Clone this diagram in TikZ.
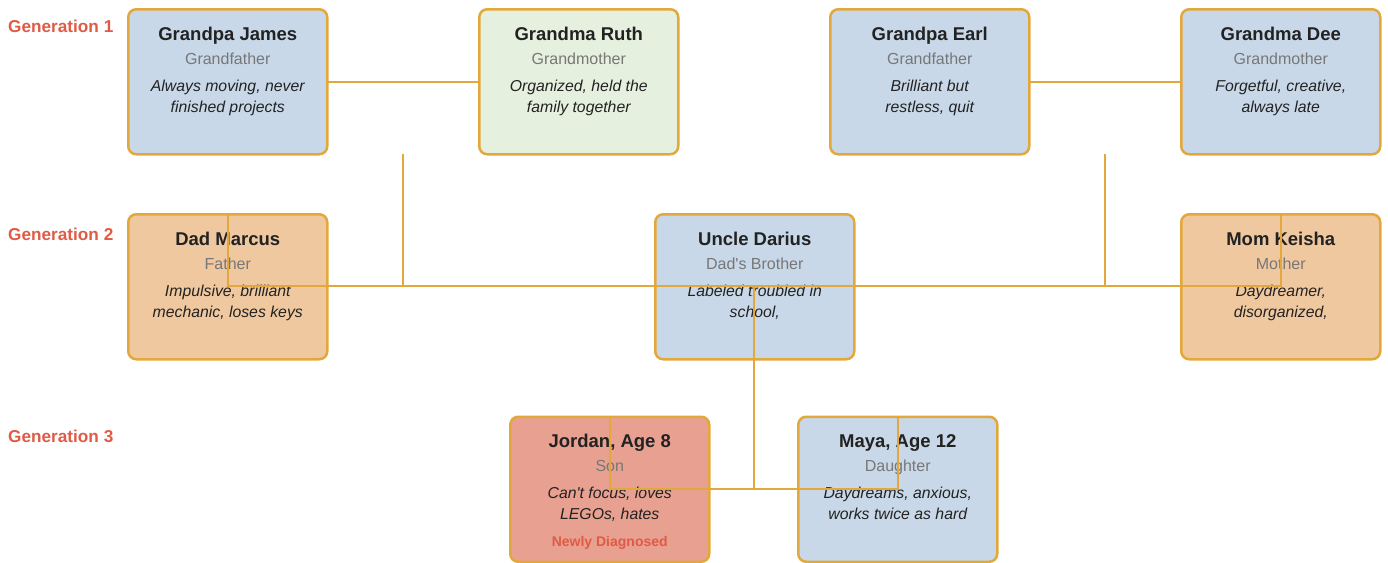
\documentclass[tikz,border=0pt]{standalone}
\usepackage{fontspec}
\setmainfont{Liberation Sans}
\usetikzlibrary{calc}
\definecolor{bord}{HTML}{E3A83C}
\definecolor{fblue}{HTML}{C8D8E8}
\definecolor{fgreen}{HTML}{E6F0DE}
\definecolor{forange}{HTML}{F0C8A0}
\definecolor{fred}{HTML}{E8A090}
\definecolor{tdark}{HTML}{222222}
\definecolor{tgray}{HTML}{777777}
\definecolor{gred}{HTML}{E05A45}
\tikzset{
  box/.style={draw=bord, line width=2.5pt, rounded corners=8pt, minimum width=199pt, minimum height=145pt, anchor=north west, inner sep=0pt, outer sep=0pt},
  conn/.style={draw=bord, line width=2pt},
  ttl/.style={anchor=base, inner sep=0pt, text=tdark, font=\fontsize{18.5}{20}\selectfont\bfseries},
  role/.style={anchor=base, inner sep=0pt, text=tgray, font=\fontsize{16}{18}\selectfont},
  desc/.style={anchor=base, inner sep=0pt, text=tdark, font=\fontsize{15.8}{18}\selectfont\itshape},
  genlbl/.style={anchor=base west, inner sep=0pt, text=gred, font=\fontsize{17.2}{19}\selectfont\bfseries},
  diag/.style={anchor=base, inner sep=0pt, text=gred, font=\fontsize{14}{16}\selectfont\bfseries}
}
\newcommand\personbox[8]{%
  \node[box, fill=#4] (#1) at ($(#2,#3)+(1.25,1.25)$) {};
  \node[ttl] (#1-t) at ($(#1.north)+(0,30.75)$) {#5};
  \node[role] (#1-r) at ($(#1.north)+(0,54.75)$) {#6};
  \node[desc] (#1-a) at ($(#1.north)+(0,81.75)$) {#7};
  \node[desc] (#1-b) at ($(#1.north)+(0,102.75)$) {#8};
}
\begin{document}
\begin{tikzpicture}[x=1pt,y=-1pt]
\useasboundingbox (0,0) rectangle (1388,562);
\node[genlbl] (g1) at (8,32) {Generation 1};
\node[genlbl] (g2) at (8,240) {Generation 2};
\node[genlbl] (g3) at (8,442) {Generation 3};
\personbox{james}{127}{8}{fblue}{Grandpa James}{Grandfather}{Always moving, never}{finished projects}
\personbox{ruth}{478}{8}{fgreen}{Grandma Ruth}{Grandmother}{Organized, held the}{family together}
\personbox{earl}{829}{8}{fblue}{Grandpa Earl}{Grandfather}{Brilliant but}{restless, quit}
\personbox{dee}{1180}{8}{fblue}{Grandma Dee}{Grandmother}{Forgetful, creative,}{always late}
\personbox{marcus}{127}{213}{forange}{Dad Marcus}{Father}{Impulsive, brilliant}{mechanic, loses keys}
\personbox{darius}{654}{213}{fblue}{Uncle Darius}{Dad\textquotesingle s Brother}{Labeled troubled in}{school,}
\personbox{keisha}{1180}{213}{forange}{Mom Keisha}{Mother}{Daydreamer,}{disorganized,}
\personbox{jordan}{509}{415.5}{fred}{Jordan, Age 8}{Son}{Can\textquotesingle t focus, loves}{LEGOs, hates}
\personbox{maya}{797}{415.5}{fblue}{Maya, Age 12}{Daughter}{Daydreams, anxious,}{works twice as hard}
\node[diag] (jordan-d) at ($(jordan.north)+(0,129.75)$) {Newly Diagnosed};
% connectors
\coordinate (jr) at ($(james.south east)!0.5!(ruth.south west)$);
\coordinate (ed) at ($(earl.south east)!0.5!(dee.south west)$);
\coordinate (py) at (0,286);
\coordinate (ky) at (0,489);
\coordinate (mk) at ($(marcus.north)!0.5!(keisha.north)$);
\draw[conn] (james.east) -- (ruth.west);
\draw[conn] (earl.east) -- (dee.west);
\draw[conn] (jr) -- (jr |- py);
\draw[conn] (ed) -- (ed |- py);
\draw[conn] (marcus.north) -- (marcus.north |- py) -- (keisha.north |- py) -- (keisha.north);
\draw[conn] (mk |- py) -- (mk |- ky);
\draw[conn] (jordan.north) -- (jordan.north |- ky) -- (maya.north |- ky) -- (maya.north);
\end{tikzpicture}
\end{document}
